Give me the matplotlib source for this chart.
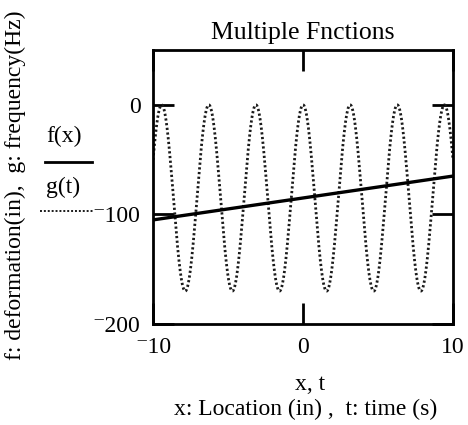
import numpy as np
import matplotlib
matplotlib.use("Agg")
import matplotlib.pyplot as plt
from matplotlib.lines import Line2D

plt.rcParams['font.family'] = ['Liberation Serif', 'DejaVu Serif']

# f(x): straight line, endpoints
f_x = [-10, 10]
f_vals = [-105, -65]

# g(t): cosine trace parameters
g_amplitude = 85
g_offset = -85
g_omega = 2.0

x_ticks = [-10, 0, 10]
x_ticklabels = ["\u207b10", "0", "10"]
y_ticks = [-200, -100, 0]
y_ticklabels = ["\u207b200", "\u207b100", "0"]

t = np.linspace(-10, 10, 1200)
g_vals = g_amplitude * np.cos(g_omega * t) + g_offset

fig = plt.figure(figsize=(4.68, 4.25), dpi=100)
ax = fig.add_axes([0.327, 0.2376, 0.641, 0.6447])

ax.plot(t, g_vals, color='#1a1a1a', lw=2.0, linestyle=(0, (0.8, 0.9)))
ax.plot(f_x, f_vals, color='black', lw=2.4, solid_capstyle='butt')

ax.set_xlim(-10, 10)
ax.set_ylim(-200, 50)
ax.set_xticks(x_ticks)
ax.set_xticklabels(x_ticklabels)
ax.set_yticks(y_ticks)
ax.set_yticklabels(y_ticklabels)
ax.tick_params(direction='in', length=15, width=2, labelsize=17,
               top=True, right=True, pad=9)
for s in ax.spines.values():
    s.set_linewidth(2)

ax.set_title("Multiple Fnctions", fontsize=18.5, pad=8)

fig.text(0.663, 1 - 385 / 425, "x, t", ha='center', va='center', fontsize=17)
fig.text(0.652, 1 - 409 / 425, "x: Location (in) ,  t: time (s)",
         ha='center', va='center', fontsize=17)
fig.text(15 / 468, 1 - 185 / 425, "f: deformation(in),  g: frequency(Hz)",
         ha='center', va='center', rotation=90, fontsize=17)

# trace legend
fig.text(64 / 468, 1 - 136 / 425, "f(x)", ha='center', va='center', fontsize=17)
fig.add_artist(Line2D([45 / 468, 92 / 468], [1 - 162 / 425] * 2,
                      color='black', lw=2))
fig.text(63 / 468, 1 - 187 / 425, "g(t)", ha='center', va='center', fontsize=17)
fig.add_artist(Line2D([40 / 468, 93 / 468], [1 - 211 / 425] * 2,
                      color='#1a1a1a', lw=1.4, linestyle=(0, (1, 1))))

fig.savefig("out.png", dpi=100)
